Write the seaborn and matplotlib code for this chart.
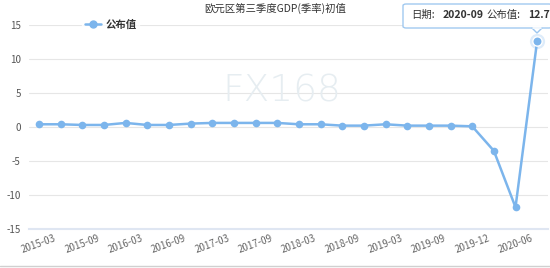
import matplotlib
matplotlib.use("Agg")
import matplotlib.pyplot as plt
import seaborn as sns
import pandas as pd
from matplotlib.lines import Line2D
from matplotlib.patches import FancyBboxPatch, Polygon

sns.set_theme(style="white")
plt.rcParams['font.family'] = ['Noto Sans CJK SC', 'DejaVu Sans']

dates = ["2015-03", "2015-06", "2015-09", "2015-12",
         "2016-03", "2016-06", "2016-09", "2016-12",
         "2017-03", "2017-06", "2017-09", "2017-12",
         "2018-03", "2018-06", "2018-09", "2018-12",
         "2019-03", "2019-06", "2019-09", "2019-10",
         "2019-12", "2020-03", "2020-06", "2020-09"]
values = [0.4, 0.4, 0.3, 0.3,
          0.6, 0.3, 0.3, 0.5,
          0.6, 0.6, 0.6, 0.6,
          0.4, 0.4, 0.2, 0.2,
          0.4, 0.2, 0.2, 0.2,
          0.1, -3.5, -11.8, 12.7]
yticks = [-15, -10, -5, 0, 5, 10, 15]

df = pd.DataFrame({"idx": range(len(dates)), "date": dates, "value": values})

color = "#7cb5ec"
fig = plt.figure(figsize=(5.5, 2.68), dpi=100)
ax = fig.add_axes([29/550, 1-229/268, (548-29)/550, (229-25)/268])

sns.lineplot(data=df, x="idx", y="value", ax=ax, color=color, linewidth=1.8,
             marker="o", markersize=5.5, markeredgewidth=0, legend=False)
# highlighted last point (hover state)
last = df.iloc[[-1]]
ax.scatter(last["idx"], last["value"], s=120, color=color, alpha=0.25, zorder=4, linewidths=0)
ax.scatter(last["idx"], last["value"], s=45, color=color, edgecolor="white", linewidth=1, zorder=5)

ax.set_xlim(-0.46, 23.5)
ax.set_ylim(-15, 15)
ax.set_yticks(yticks)
ax.set_yticklabels([str(v) for v in yticks], fontsize=7, color="#555555")
tick_idx = list(range(0, len(dates), 2))
ax.set_xticks(tick_idx)
ax.set_xticklabels([dates[i] for i in tick_idx], fontsize=7, color="#666666", rotation=20, ha="center")
ax.tick_params(axis="both", length=0)
ax.tick_params(axis="x", pad=3)
ax.tick_params(axis="y", pad=6)
ax.grid(axis="y", color="#e6e6e6", linewidth=0.8)
ax.set_axisbelow(True)
for s in ["top", "right", "left"]:
    ax.spines[s].set_visible(False)
ax.spines["bottom"].set_color("#dfe6f2")
ax.spines["bottom"].set_linewidth(1.5)
ax.set_xlabel("")
ax.set_ylabel("")

# watermark
fig.text(282/550, 1-91/268, "FX168", fontsize=27, color="#e6edf1", ha="center", va="center",
         family="DejaVu Sans", fontweight="light", zorder=0)

# title
fig.text(275/550, 1-8/268, "欧元区第三季度GDP(季率)初值", fontsize=7.5, color="#333333",
         ha="center", va="center")

# legend
handle = Line2D([0], [0], color=color, marker="o", markersize=5, linewidth=1.8)
leg = ax.legend([handle], ["公布值"], loc="center left", bbox_to_anchor=(77/550, 1-25/268),
                bbox_transform=fig.transFigure, frameon=True, fontsize=7.5,
                handlelength=1.5, handletextpad=0.4, borderpad=0.3)
leg.get_frame().set_facecolor("white")
leg.get_frame().set_edgecolor("white")
for t in leg.get_texts():
    t.set_fontweight("bold")
    t.set_color("#333333")

# bottom border line
fig.add_artist(Line2D([0, 1], [1-266/268, 1-266/268], color="#d0d0d0", linewidth=1))

# tooltip
box = FancyBboxPatch((403/550, 1-28/268), (552-403)/550, 24/268,
                     boxstyle="round,pad=0,rounding_size=0.006", transform=fig.transFigure,
                     facecolor="white", edgecolor="#9cc6ef", linewidth=1.0, alpha=0.95, zorder=10)
fig.add_artist(box)
tri = Polygon([(532/550, 1-28/268), (542/550, 1-28/268), (537/550, 1-33/268)], closed=True,
              transform=fig.transFigure, facecolor="white", edgecolor="#9cc6ef", linewidth=1.0, zorder=10)
fig.add_artist(tri)
fig.add_artist(Line2D([532.6/550, 541.4/550], [1-28/268, 1-28/268], color="white", linewidth=1.2, zorder=11))
fig.text(411/550, 1-15/268, "日期:", fontsize=7.5, color="#333333", va="center", ha="left", zorder=11)
fig.text(443/550, 1-15/268, "2020-09", fontsize=7.5, color="#333333", va="center", ha="left",
         fontweight="bold", zorder=11)
fig.text(486/550, 1-15/268, "公布值:", fontsize=7.5, color="#333333", va="center", ha="left", zorder=11)
fig.text(528/550, 1-15/268, "12.7", fontsize=7.5, color="#333333", va="center", ha="left",
         fontweight="bold", zorder=11)

fig.savefig("out.png", dpi=100)
